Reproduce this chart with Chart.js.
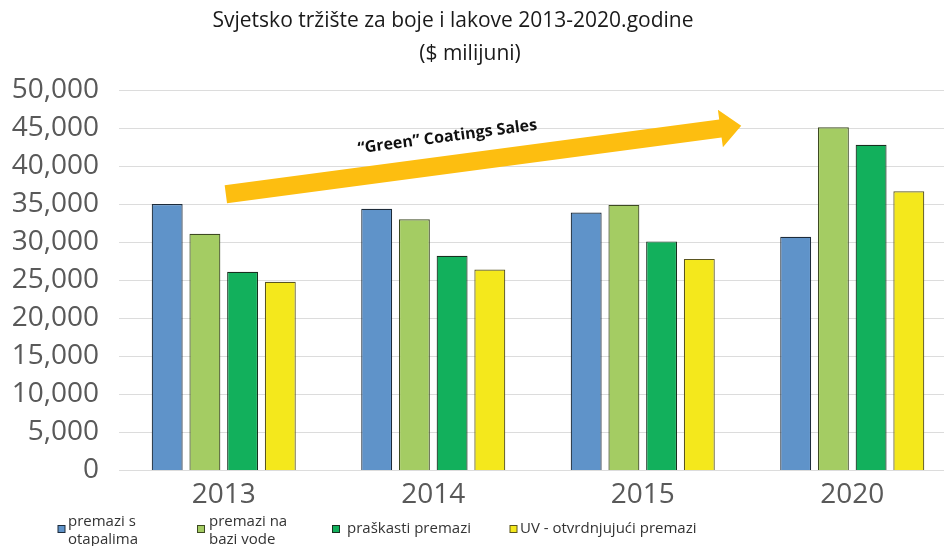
<!DOCTYPE html>
<html>
<head>
<meta charset="utf-8">
<script src="https://cdn.jsdelivr.net/npm/chart.js@4.4.1/dist/chart.umd.min.js"></script>
<style>
  html, body { margin: 0; padding: 0; background: #fff; overflow: hidden; }
  #wrap { width: 944px; height: 546px; position: relative; overflow: hidden; }
</style>
</head>
<body>
<div id="wrap"><canvas id="c" width="957" height="546"></canvas></div>
<script>
// values, $ millions
const years = ['2013', '2014', '2015', '2020'];
const solventBorne = [35000, 34400, 33900, 30700];
const waterBorne = [31100, 33000, 34900, 45100];
const powder = [26100, 28200, 30100, 42800];
const uvCured = [24800, 26400, 27800, 36700];

const seriesNames = [['premazi s', 'otapalima'], ['premazi na', 'bazi vode'], ['praškasti premazi'], ['UV - otvrdnjujući premazi']];
const seriesColors = ['#5f93c9', '#a4cc63', '#12b05c', '#f4e81c'];
const seriesBorders = ['#1d2b3a', '#3d4a22', '#17301f', '#5a5520'];

const titleLines = ['Svjetsko tržište za boje i lakove 2013-2020.godine', '($ milijuni)'];

const FONT = '"Open Sans", "DejaVu Sans", sans-serif';

// yellow trend arrow, anchored in data space (category index, value)
const arrowFrom = { x: 0.01, y: 36300 };
const arrowTo = { x: 2.47, y: 45300 };

const titlePlugin = {
  id: 'twoLineTitle',
  afterDraw(chart) {
    const ctx = chart.ctx;
    ctx.save();
    ctx.fillStyle = '#1a1a1a';
    ctx.font = '21px ' + FONT;
    ctx.textAlign = 'center';
    ctx.textBaseline = 'middle';
    ctx.fillText(titleLines[0], 453, 21);
    ctx.fillText(titleLines[1], 470, 54);
    ctx.restore();
  }
};

const arrowPlugin = {
  id: 'greenArrow',
  afterDatasetsDraw(chart) {
    const { ctx, scales: { x, y } } = chart;
    const x0 = x.getPixelForValue(arrowFrom.x), y0 = y.getPixelForValue(arrowFrom.y);
    const x1 = x.getPixelForValue(arrowTo.x), y1 = y.getPixelForValue(arrowTo.y);
    const ang = Math.atan2(y1 - y0, x1 - x0);
    const len = Math.hypot(x1 - x0, y1 - y0);
    const half = 9, headLen = 21, headHalf = 19;
    ctx.save();
    ctx.translate(x0, y0);
    ctx.rotate(ang);
    ctx.fillStyle = '#fdbe10';
    ctx.beginPath();
    ctx.moveTo(0, -half);
    ctx.lineTo(len - headLen, -half);
    ctx.lineTo(len - headLen, -headHalf);
    ctx.lineTo(len, 0);
    ctx.lineTo(len - headLen, headHalf);
    ctx.lineTo(len - headLen, half);
    ctx.lineTo(0, half);
    ctx.closePath();
    ctx.fill();
    // label riding above the shaft
    ctx.fillStyle = '#111';
    ctx.font = 'bold 16px ' + FONT;
    ctx.textAlign = 'center';
    ctx.textBaseline = 'alphabetic';
    ctx.fillText('\u201CGreen\u201D Coatings Sales', len * 0.437, -half - 14);
    ctx.restore();
  }
};

// two-line legend at the bottom (Chart.js legend can't wrap labels)
const legendSquareX = [61.5, 201, 336, 513.5];
const legendTextX = [68, 209, 347, 520];
const legendPlugin = {
  id: 'wrapLegend',
  afterDraw(chart) {
    const ctx = chart.ctx;
    ctx.save();
    ctx.font = '15px ' + FONT;
    ctx.textBaseline = 'middle';
    ctx.textAlign = 'left';
    seriesNames.forEach((lines, i) => {
      const sx = legendSquareX[i], sy = 529;
      ctx.fillStyle = seriesColors[i];
      ctx.strokeStyle = seriesBorders[i];
      ctx.lineWidth = 1;
      ctx.fillRect(sx - 3.5, sy - 3.5, 7, 7);
      ctx.strokeRect(sx - 3.5, sy - 3.5, 7, 7);
      ctx.fillStyle = '#333';
      if (lines.length > 1) {
        ctx.fillText(lines[0], legendTextX[i], 522);
        ctx.fillText(lines[1], legendTextX[i], 540);
      } else {
        ctx.fillText(lines[0], legendTextX[i], 529);
      }
    });
    ctx.restore();
  }
};

const data = [solventBorne, waterBorne, powder, uvCured];

new Chart(document.getElementById('c').getContext('2d'), {
  type: 'bar',
  data: {
    labels: years,
    datasets: data.map((vals, i) => ({
      label: seriesNames[i].join(' '),
      data: vals,
      backgroundColor: seriesColors[i],
      borderColor: seriesBorders[i],
      borderWidth: 1.2,
      categoryPercentage: 0.72,
      barPercentage: 0.82,
    }))
  },
  options: {
    responsive: false,
    animation: false,
    layout: { padding: { left: 6, right: 0, top: 90, bottom: 34 } },
    scales: {
      x: {
        grid: { display: false },
        border: { display: false },
        ticks: { color: '#595959', font: { size: 28, family: FONT }, padding: 0 }
      },
      y: {
        min: 0,
        max: 50000,
        afterFit: (scale) => { scale.width = 113; },
        ticks: {
          stepSize: 5000,
          color: '#595959',
          font: { size: 28, family: FONT },
          padding: 20,
          callback: (v) => Number(v).toLocaleString('en-US')
        },
        grid: { color: '#dcdcdc', lineWidth: 1, drawTicks: false },
        border: { display: false }
      }
    },
    plugins: {
      legend: { display: false },
      tooltip: { enabled: false },
      title: { display: false }
    }
  },
  plugins: [arrowPlugin, legendPlugin, titlePlugin]
});
</script>
</body>
</html>
